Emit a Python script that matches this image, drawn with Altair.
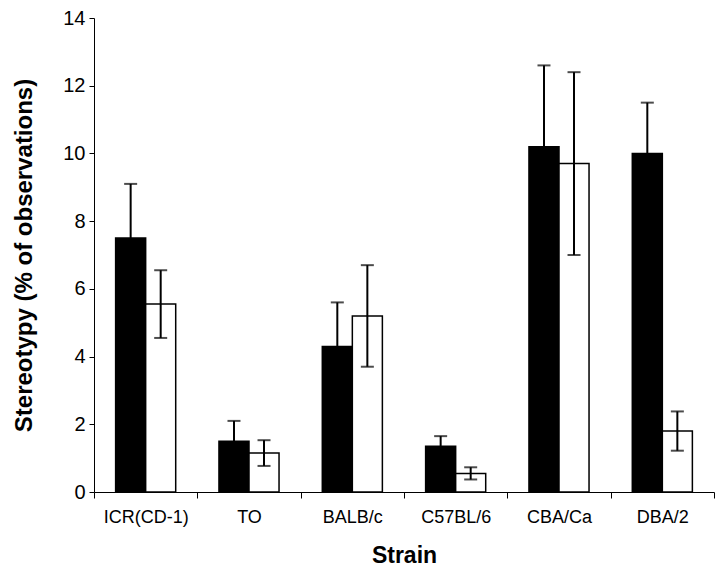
import altair as alt
import pandas as pd

strains = ["ICR(CD-1)", "TO", "BALB/c", "C57BL/6", "CBA/Ca", "DBA/2"]
groups = ["A", "B"]
black_mean = [7.5, 1.5, 4.3, 1.35, 10.2, 10.0]
black_err = [1.6, 0.6, 1.3, 0.3, 2.4, 1.5]
white_mean = [5.55, 1.15, 5.2, 0.55, 9.7, 1.8]
white_err = [1.0, 0.38, 1.5, 0.18, 2.7, 0.58]
y_ticks = [0, 2, 4, 6, 8, 10, 12, 14]

rows = []
for i, s in enumerate(strains):
    for g, m, e in (("A", black_mean[i], black_err[i]), ("B", white_mean[i], white_err[i])):
        rows.append({"strain": s, "group": g, "mean": m, "lo": m - e, "hi": m + e})
df = pd.DataFrame(rows)

FONT = "Liberation Sans"

x_enc = alt.X(
    "strain:N", sort=strains, title="Strain",
    scale=alt.Scale(paddingInner=0, paddingOuter=0),
    axis=alt.Axis(labelAngle=0, tickBand="extent", tickSize=6, labelFontSize=18,
                  labelPadding=10, titleFontSize=23, titlePadding=18,
                  titleFontWeight="bold"),
)
xo_enc = alt.XOffset("group:N", sort=groups,
                     scale=alt.Scale(paddingInner=0, paddingOuter=0.72))
y_scale = alt.Scale(domain=[0, 14], nice=False)

base = alt.Chart(df).encode(x=x_enc, xOffset=xo_enc)

bars = base.mark_bar(stroke="black", strokeWidth=1.5).encode(
    y=alt.Y("mean:Q", scale=y_scale, title="Stereotypy (% of observations)",
            axis=alt.Axis(values=y_ticks, tickSize=5, labelFontSize=20, labelPadding=4,
                          titleFontSize=24, titlePadding=26, titleFontWeight="bold")),
    fill=alt.Fill("group:N", scale=alt.Scale(domain=groups, range=["black", "white"]), legend=None),
)
rules = base.mark_rule(color="black", strokeWidth=2).encode(y=alt.Y("lo:Q", scale=y_scale), y2="hi:Q")
cap_hi = base.mark_tick(color="black", thickness=2, size=13).encode(y=alt.Y("hi:Q", scale=y_scale))
cap_lo = base.mark_tick(color="black", thickness=2, size=13).encode(y=alt.Y("lo:Q", scale=y_scale))

chart = alt.layer(bars, rules, cap_hi, cap_lo).properties(
    width=620, height=474, padding={"left": 4, "top": 0, "right": 0, "bottom": 0}
).configure_view(stroke=None).configure_axis(
    grid=False, domainColor="black", tickColor="black", labelColor="black",
    titleColor="black", labelFont=FONT, titleFont=FONT, domainWidth=1, tickWidth=1
)

chart.save("out.html", embed_options={"renderer": "svg", "actions": False})
